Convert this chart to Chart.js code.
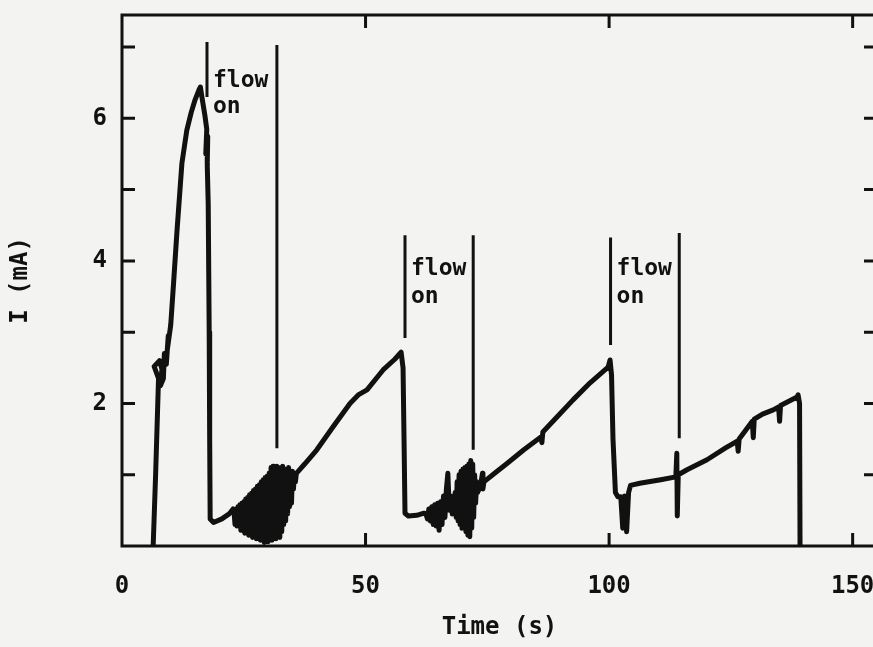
<!DOCTYPE html>
<html>
<head>
<meta charset="utf-8">
<script src="https://cdn.jsdelivr.net/npm/chart.js@4.4.1/dist/chart.umd.min.js"></script>
<style>
  html, body { margin: 0; padding: 0; overflow: hidden; background: #f3f3f1; }
  canvas { display: block; }
</style>
</head>
<body>
<canvas id="chart" width="880" height="647"></canvas>
<script>
// current trace (time in s, current in mA)
const timeS = [
  6.4, 6.9, 7.3, 7.5, 6.6, 7.7, 8.2, 7.9, 8.5, 8.7, 9.1, 9.5, 9.3, 10.0, 10.6, 11.3, 12.3, 13.3, 14.2, 15.0,
  15.8, 16.1, 16.4, 17.0, 17.4, 17.2, 17.6, 17.5, 17.7, 17.9, 18.0, 18.1, 18.8, 20.5, 22.0, 22.8,
  23.0, 23.2, 23.4, 23.6, 23.8, 24.0, 24.2, 24.4, 24.6, 24.8, 25.0, 25.2, 25.4, 25.6, 25.8, 26.0,
  26.2, 26.4, 26.6, 26.8, 27.0, 27.2, 27.4, 27.6, 27.8, 28.0, 28.2, 28.4, 28.6, 28.8, 29.0, 29.2,
  29.4, 29.6, 29.8, 30.0, 30.2, 30.4, 30.6, 30.8, 31.0, 31.2, 31.4, 31.6, 31.8, 32.0, 32.2, 32.4,
  32.6, 32.8, 33.0, 33.2, 33.4, 33.6, 33.8, 34.0, 34.2, 34.4, 34.6, 34.8, 35.0, 35.2, 35.4, 35.6, 35.8,
  37.5, 40.0, 43.3, 46.8, 48.5, 50.3, 53.6, 56.0, 57.3, 57.7, 57.9, 58.1, 58.8, 60.5, 62.0,
  62.4, 62.7, 63.0, 63.3, 63.6, 63.9, 64.2, 64.5, 64.8, 65.1, 65.4, 65.7, 66.0, 66.3, 66.6, 66.9,
  67.2, 67.5, 67.8, 68.1,
  68.4, 68.6, 68.8, 69.0, 69.2, 69.4, 69.6, 69.8, 70.0, 70.2, 70.4, 70.6, 70.8, 71.0, 71.2, 71.4,
  71.6, 71.8, 72.0, 72.2, 72.4, 72.6, 72.8, 73.0, 73.6, 74.0, 74.1, 74.3,
  76.5, 79.1, 82.5, 86.0, 86.2, 86.4, 89.3, 92.6, 96.1, 99.8, 100.2, 100.5, 100.8, 101.3, 101.8,
  102.4, 102.8, 103.2, 103.6, 104.0, 104.4, 106.3, 110.6, 113.7, 113.9, 114.0, 114.2,
  116.0, 120.1, 124.0, 126.3, 126.5, 126.7, 128.0, 129.4, 129.6, 129.8, 131.5, 133.7, 134.8, 135.0,
  135.2, 138.6, 138.8, 139.1, 139.2
];
const currentMA = [
  0.0, 1.0, 1.9, 2.35, 2.52, 2.6, 2.48, 2.25, 2.35, 2.7, 2.55, 2.95, 2.75, 3.1, 3.7, 4.43, 5.37, 5.83, 6.08, 6.26,
  6.4, 6.44, 6.3, 6.05, 5.85, 5.5, 5.75, 5.35, 4.8, 3.0, 1.5, 0.38, 0.33, 0.38, 0.45, 0.52,
  0.48, 0.30, 0.52, 0.28, 0.55, 0.35, 0.58, 0.22, 0.6, 0.3, 0.62, 0.18, 0.66, 0.25, 0.68, 0.15,
  0.72, 0.3, 0.74, 0.12, 0.78, 0.2, 0.8, 0.1, 0.84, 0.25, 0.86, 0.08, 0.9, 0.18, 0.93, 0.05,
  0.96, 0.2, 0.98, 0.06, 1.02, 0.25, 1.1, 0.08, 1.12, 0.3, 1.1, 0.1, 1.12, 0.35, 1.08, 0.12,
  1.1, 0.2, 1.12, 0.3, 1.08, 0.35, 1.05, 0.45, 1.1, 0.55, 1.02, 0.6, 1.05, 0.8, 1.0, 0.9, 1.02,
  1.15, 1.35, 1.67, 2.0, 2.12, 2.19, 2.47, 2.62, 2.72, 2.5, 1.5, 0.46, 0.42, 0.43, 0.46,
  0.45, 0.38, 0.52, 0.35, 0.55, 0.3, 0.58, 0.28, 0.6, 0.22, 0.62, 0.3, 0.7, 0.4, 0.8, 1.02,
  0.5, 0.7, 0.45, 0.6,
  0.75, 0.4, 0.9, 0.35, 1.0, 0.3, 1.05, 0.25, 1.08, 0.3, 1.1, 0.2, 1.12, 0.15, 1.15, 0.13,
  1.2, 0.25, 1.15, 0.4, 1.0, 0.6, 0.9, 0.75, 0.85, 1.02, 0.8, 0.9,
  1.02, 1.16, 1.35, 1.53, 1.45, 1.6, 1.81, 2.05, 2.29, 2.51, 2.61, 2.4, 1.5, 0.75, 0.69,
  0.69, 0.25, 0.7, 0.2, 0.75, 0.85, 0.88, 0.93, 0.97, 1.3, 0.42, 1.0,
  1.07, 1.21, 1.38, 1.47, 1.33, 1.5, 1.62, 1.75, 1.52, 1.78, 1.85, 1.91, 1.95, 1.75,
  1.97, 2.09, 2.12, 2.0, 0
];

// "flow on" marker lines
const flowX = [17.45, 31.8, 58.1, 72.1, 100.3, 114.4];
const flowTop = [7.07, 7.03, 4.36, 4.36, 4.33, 4.39];
const flowBottom = [6.3, 1.37, 2.92, 1.35, 2.82, 1.51];

// label anchors (time of marker, baseline of "flow" and "on")
const labelX = [17.45, 58.1, 100.3];
const labelFlowY = [6.44, 3.80, 3.80];
const labelOnY = [6.07, 3.41, 3.41];

const xTicks = [0, 50, 100, 150];
const yTickLabels = [2, 4, 6];
const yMinorTicks = [1, 2, 3, 4, 5, 6, 7];
const xFrameTicks = [50, 100, 150];

const ink = '#111';
const monoFont = 'DejaVu Sans Mono';

Chart.defaults.font.family = monoFont;
Chart.defaults.font.weight = 'bold';
Chart.defaults.font.size = 24;
Chart.defaults.color = ink;

const framePlugin = {
  id: 'frame',
  afterDatasetsDraw(chart) {
    const { ctx, chartArea: a, scales: { x, y } } = chart;
    ctx.save();
    ctx.strokeStyle = ink;
    ctx.lineWidth = 3;
    ctx.strokeRect(a.left, a.top, a.right - a.left, a.bottom - a.top);

    ctx.beginPath();
    yMinorTicks.forEach(v => {
      const py = y.getPixelForValue(v);
      ctx.moveTo(a.left, py);
      ctx.lineTo(a.left + 13, py);
      ctx.moveTo(a.right, py);
      ctx.lineTo(a.right - 13, py);
    });
    xFrameTicks.forEach(v => {
      const px = x.getPixelForValue(v);
      ctx.moveTo(px, a.bottom);
      ctx.lineTo(px, a.bottom - 13);
      ctx.moveTo(px, a.top);
      ctx.lineTo(px, a.top + 13);
    });
    ctx.stroke();

    ctx.fillStyle = ink;
    ctx.font = 'bold 23px "' + monoFont + '"';
    ctx.textAlign = 'left';
    ctx.textBaseline = 'alphabetic';
    labelX.forEach((t, i) => {
      const px = x.getPixelForValue(t) + 6;
      ctx.fillText('flow', px, y.getPixelForValue(labelFlowY[i]));
      ctx.fillText('on', px, y.getPixelForValue(labelOnY[i]));
    });
    ctx.restore();
  }
};

const datasets = [{
  data: timeS.map((t, i) => ({ x: t, y: currentMA[i] })),
  borderColor: ink,
  borderWidth: 5,
  borderJoinStyle: 'round',
  borderCapStyle: 'round',
  pointRadius: 0,
  tension: 0
}];
flowX.forEach((t, i) => {
  datasets.push({
    data: [{ x: t, y: flowTop[i] }, { x: t, y: flowBottom[i] }],
    borderColor: ink,
    borderWidth: 3,
    pointRadius: 0
  });
});

new Chart(document.getElementById('chart'), {
  type: 'line',
  data: { datasets },
  plugins: [framePlugin],
  options: {
    responsive: false,
    animation: false,
    devicePixelRatio: 1,
    layout: { padding: { top: 15, right: 3, left: 0, bottom: 0 } },
    plugins: { legend: { display: false }, tooltip: { enabled: false } },
    scales: {
      x: {
        type: 'linear',
        min: 0,
        max: 155,
        grid: { display: false, drawTicks: false },
        border: { display: false },
        afterBuildTicks: s => { s.ticks = xTicks.map(v => ({ value: v })); },
        afterFit: s => { s.height = 101; s.paddingLeft = 0; s.paddingRight = 0; },
        ticks: { padding: 26, maxRotation: 0, autoSkip: false },
        title: { display: true, text: 'Time (s)', padding: { top: 0, bottom: 5 } }
      },
      y: {
        type: 'linear',
        min: 0,
        max: 7.45,
        grid: { display: false, drawTicks: false },
        border: { display: false },
        afterBuildTicks: s => { s.ticks = yTickLabels.map(v => ({ value: v })); },
        afterFit: s => { s.width = 122; s.paddingTop = 0; s.paddingBottom = 0; },
        ticks: { padding: 15 },
        title: { display: true, text: 'I (mA)', padding: { top: 6, bottom: 0 } }
      }
    }
  }
});
</script>
</body>
</html>
